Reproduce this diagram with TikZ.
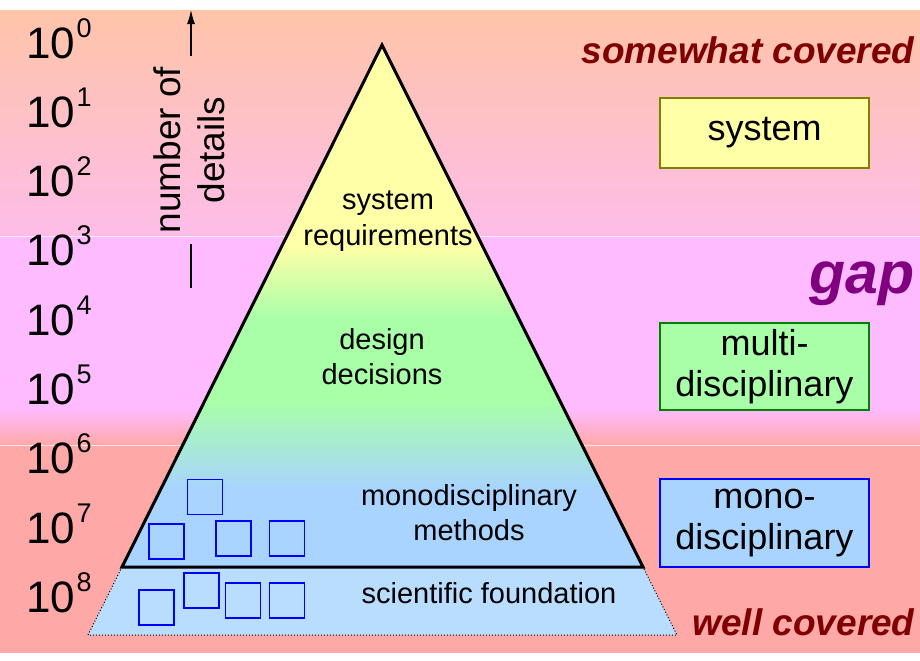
\documentclass[tikz,border=0pt]{standalone}
\usepackage{fontspec}
\setmainfont{Liberation Sans}
\usepackage{xcolor}
\usetikzlibrary{arrows.meta, positioning, calc}
\definecolor{peach}{HTML}{FFC4A8}
\definecolor{rosy}{HTML}{FDBDE8}
\definecolor{mauve}{HTML}{FFBBFF}
\definecolor{salmon}{HTML}{FFA8A8}
\definecolor{pyryel}{HTML}{FFFFA8}
\definecolor{pyrgrn}{HTML}{A8FFA8}
\definecolor{pyrblu}{HTML}{A8D4FF}
\definecolor{basblu}{HTML}{B8DDFF}
\definecolor{covred}{HTML}{800000}
\definecolor{gappur}{HTML}{800080}
\definecolor{boxolv}{HTML}{808000}
\definecolor{boxgrn}{HTML}{008000}
\pgfdeclareverticalshading{pyrshade}{100bp}{color(0bp)=(pyrblu); color(32.4bp)=(pyrblu); color(41bp)=(pyrgrn); color(48.7bp)=(pyrgrn); color(55.8bp)=(pyryel); color(100bp)=(pyryel)}
\tikzset{
    lvl/.style={draw, line width=0.6pt, minimum width=104.5pt, align=center, inner sep=2pt,
                font=\fontsize{18}{20.5}\selectfont},
    ptxt/.style={align=center, font=\fontsize{14.5}{17.5}\selectfont},
    cov/.style={anchor=base east, inner sep=0pt, text=covred, font=\fontsize{18.5}{22}\selectfont\bfseries\itshape},
    powlab/.style={anchor=base west, inner sep=0pt, font=\fontsize{22}{24}\selectfont},
    sq/.style={draw=blue, line width=0.8pt, minimum size=17.5pt, inner sep=0pt},
    axl/.style={line width=0.6pt, black},
    band/.style={draw=white, line width=0.5pt, opacity=0.7},
}

\begin{document}
\begin{tikzpicture}[x=0.5pt, y=-0.5pt]
    \useasboundingbox[fill=white] (0,0) rectangle (920,660);
    % background bands
    \shade[top color=peach, bottom color=rosy] (0,10) rectangle (920,236);
    \fill[mauve] (0,236) rectangle (920,408);
    \shade[top color=mauve, bottom color=salmon] (0,408) rectangle (920,445);
    \fill[salmon] (0,445) rectangle (920,653);
    \draw[band] (0,236) -- (920,236);
    \draw[band] (0,445) -- (920,445);

    % pyramid
    \coordinate (apex) at (382,45);
    \coordinate (bl) at (122,567);
    \coordinate (br) at (643,567);
    \coordinate (fl) at (88,635);
    \coordinate (fr) at (677,635);
    \fill[basblu] (bl) -- (br) -- (fr) -- (fl) -- cycle;
    \draw[densely dotted, line width=0.5pt] (bl) -- (fl) -- (fr) -- (br);
    \shade[shading=pyrshade] (apex) -- (br) -- (bl) -- cycle;
    \draw[line width=1.5pt, line join=miter] (bl) -- (apex) -- (br) -- cycle;

    \node[ptxt, font=\fontsize{14.5}{18}\selectfont] (sysreq) at (388,221) {system\\requirements};
    \node[ptxt] (design) at (382,357) {design\\decisions};
    \node[ptxt] (mono) at (469,513) {monodisciplinary\\methods};
    \node[ptxt] (found) at (489,593) {scientific foundation};

    \foreach \x/\y [count=\i] in {204.8/496.8, 166.5/541.5, 233.5/538.5, 287/538.5,
                                  156.5/607.5, 201.5/590.5, 243/600.5, 287/600.5}
        \node[sq] (sq\i) at (\x,\y) {};

    % axis
    \foreach \e in {0,...,8}
        \node[powlab] (pow\e) at (26,{58+69.3*\e}) {10\kern0.6pt\raisebox{10.5pt}{\fontsize{13.5}{13.5}\selectfont\e}};
    \node[rotate=90, align=center, inner xsep=5pt, inner ysep=0pt,
          font=\fontsize{18.5}{22}\selectfont] (details) at (189,150) {number of\\details};
    \coordinate (axbot) at (191,288);
    \coordinate (axtop) at (191,10);
    \draw[axl] (axbot) -- (axbot |- details.west);
    \draw[axl, -{Latex[length=7pt, width=4pt]}] (axtop |- details.east) -- (axtop);

    % levels
    \node[lvl, fill=pyryel, draw=boxolv, minimum height=35pt] (sysbox) at (764.5,133) {system};
    \node[lvl, fill=pyrgrn, draw=boxgrn, minimum height=43.5pt] (multibox) at (764.5,366.5) {multi-\\disciplinary};
    \node[lvl, fill=pyrblu, draw=blue, minimum height=44pt] (monobox) at (764.5,523) {mono-\\disciplinary};

    \node[cov] (somewhat) at (915,63) {somewhat covered};
    \node[cov, text=gappur, font=\fontsize{29.5}{32}\selectfont\bfseries\itshape] (gap) at (915,293) {gap};
    \node[cov] (well) at (915,635) {well covered};
\end{tikzpicture}
\end{document}
